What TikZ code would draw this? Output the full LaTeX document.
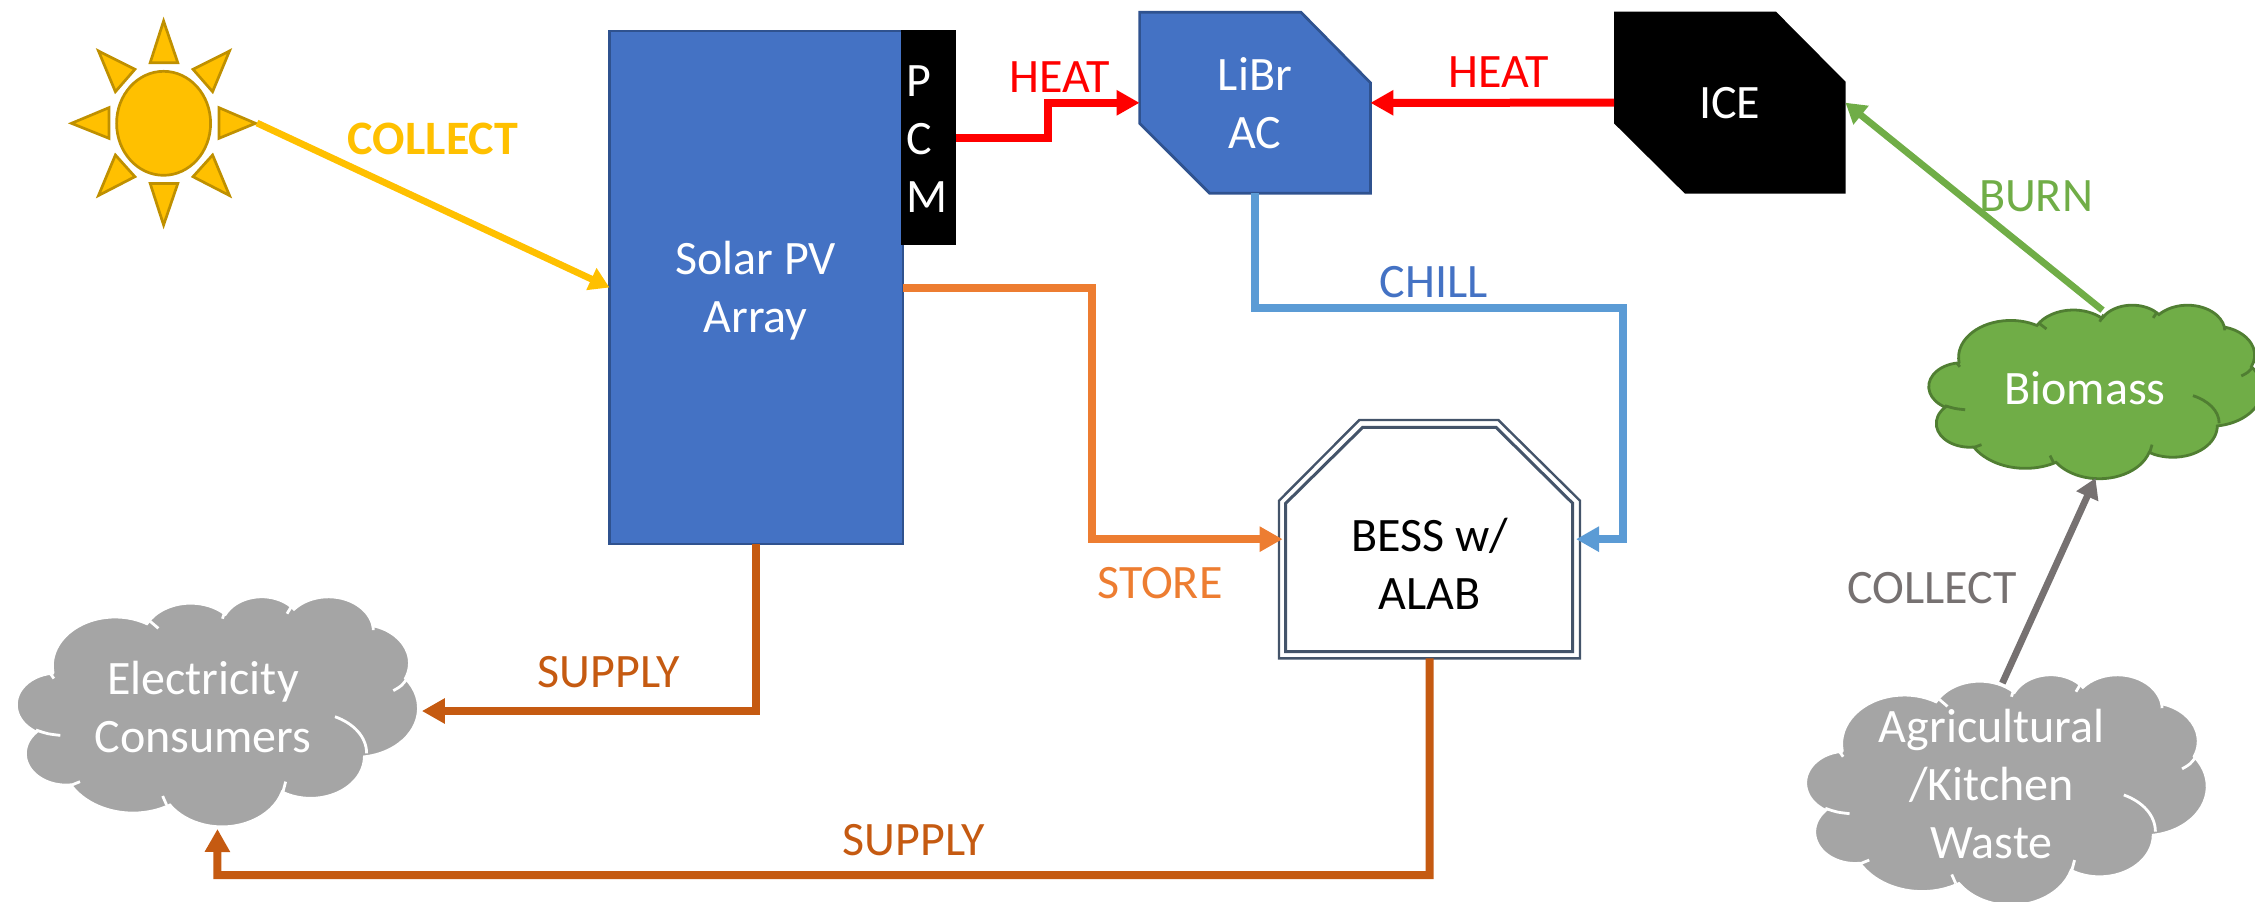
\documentclass[tikz,border=0pt]{standalone}
\usepackage{fontspec}
\setmainfont{Carlito}
\usetikzlibrary{arrows.meta}
\definecolor{pvblue}{HTML}{4472C4}
\definecolor{pvedge}{HTML}{2F528F}
\definecolor{sunfill}{HTML}{FFC000}
\definecolor{sunedge}{HTML}{BF9000}
\definecolor{leaf}{HTML}{70AD47}
\definecolor{leafedge}{HTML}{507E32}
\definecolor{cloudgrey}{HTML}{A5A5A5}
\definecolor{chillblue}{HTML}{5B9BD5}
\definecolor{storeorange}{HTML}{ED7D31}
\definecolor{supplybrown}{HTML}{C55A11}
\definecolor{wastegrey}{HTML}{767171}
\definecolor{slateedge}{HTML}{44546A}
\tikzset{
  txt/.style={font=\fontsize{24}{29}\selectfont,inner sep=0pt,outer sep=0pt,align=center},
  lbl/.style={txt,anchor=base},
  area/.style={inner sep=0pt,outer sep=0pt,minimum width=#1},
  ray/.style={fill=sunfill,draw=sunedge,line width=1.35pt,line join=miter},
  pipe/.style={line width=4pt,line join=miter,-{Triangle[length=11.5pt,width=12pt]}},
  slim/.style={line width=3.4pt,-{Triangle[length=10pt,width=11.5pt]}},
}
\newcommand\carc[4]{arc[start angle={atan2(#1*sin(#3),#2*cos(#3))},delta angle={mod(atan2(#1*sin(#3+#4),#2*cos(#3+#4))-atan2(#1*sin(#3),#2*cos(#3))+720,360)},x radius=#1,y radius=#2]}
% #1 corner, #2 x unit, #3 y unit, #4 fill, #5 line
\newcommand\cloudshape[5]{%
\begin{scope}[shift={#1},x=#2pt,y=-#3pt,line width=1.4pt]
\path[fill=#4,draw=#5] (39,143.7)
 \carc{67.53}{91.90}{-190.4875}{123.7805}
 \carc{53.33}{72.67}{-144.1024}{89.9452}
 \carc{43.65}{59.45}{-145.8079}{99.7230}
 \carc{48.57}{65.95}{-130.9861}{117.2417}
 \carc{53.33}{72.73}{-78.7089}{109.0269}
 \carc{67.75}{92.20}{-46.2673}{130.2690}
 \carc{57.85}{78.67}{0.6250}{114.0333}
 \carc{67.52}{92.15}{22.4516}{115.1726}
 \carc{77.20}{105.43}{66.2426}{75.7110}
 \carc{43.60}{59.18}{-274.9421}{146.7356}
 \carc{43.45}{59.45}{-246.8285}{152.5189} -- cycle;
\draw[#5] (46.93,261.77) .. controls (33,259) .. (20.8,251.7);
\draw[#5] (40,155) -- (36,145);
\draw[#5] (152.4,60.7) .. controls (148,53) .. (142.7,46.3);
\draw[#5] (221.4,42.6) .. controls (223,33) .. (226.6,25);
\draw[#5] (290.8,33.2) .. controls (293,26) .. (295.8,18.8);
\draw[#5] (383.2,54) -- (383.6,64);
\draw[#5] (405.1,177.8) .. controls (414,169) .. (420.2,154.6);
\draw[#5] (342.4,226.7) .. controls (362,239) and (376.4,264) .. (376.4,295.5);
\draw[#5] (289.3,348.7) .. controls (288,360) .. (286,370.6);
\draw[#5] (157,375.7) .. controls (158.5,385) .. (161.3,392.6);
\draw[#5] (68.1,348.7) .. controls (63,352) .. (59.2,355);
\end{scope}}
\begin{document}
\begin{tikzpicture}[x=0.5pt,y=-0.5pt]
\useasboundingbox (0,0) rectangle (2255,901);
% sun
\draw[ray] (163.6,123.3) ellipse [x radius=47,y radius=52];
\draw[ray] (163.6,21) -- (150.2,62.7) -- (177.8,62.7) -- cycle;
\draw[ray] (229.5,51) -- (193,69.3) -- (212.6,91.7) -- cycle;
\draw[ray] (255.5,123.3) -- (219,107.7) -- (219,138.3) -- cycle;
\draw[ray] (229.5,195.5) -- (193,176.7) -- (212.6,155) -- cycle;
\draw[ray] (163.6,225) -- (150.2,183.5) -- (177.8,183.5) -- cycle;
\draw[ray] (98.5,195.5) -- (134.9,176.7) -- (115.4,155) -- cycle;
\draw[ray] (71.5,123.3) -- (108.9,107.7) -- (108.9,138.3) -- cycle;
\draw[ray] (98.5,51) -- (134.9,69.3) -- (115.4,91.7) -- cycle;
\node[area=93.5pt,minimum height=106pt] (sun) at (163.5,123) {};
% solar array and PCM
\node[fill=pvblue,draw=pvedge,line width=1.35pt,inner sep=0pt,outer sep=0pt,minimum width=146.75pt,minimum height=256.5pt] (solar) at (756.25,287.5) {};
\node[txt,text=white] (solartext) at (755.5,291) {Solar PV\\Array};
\node[fill=black,inner sep=0pt,outer sep=0pt,minimum height=107.5pt,minimum width=27.5pt] (pcm) at (928.5,137.5) {};
\node[txt,text=white,text width=22pt,align=left,anchor=west] (pcmtext) at (906.5,139.5) {P\\C\\M};
% LiBr AC
\path[fill=pvblue,draw=pvedge,line width=1.35pt] (1139.6,12.3) -- (1301,12.3) -- (1370.4,82.7) -- (1370.4,193.3) -- (1209.7,193.3) -- (1139.6,123.3) -- cycle;
\node[txt,text=white,area=115.4pt,minimum height=90.5pt] (libr) at (1255,102.8) {LiBr\\AC};
% ICE
\path[fill=black] (1614,11.7) -- (1776,11.7) -- (1845.5,81.7) -- (1845.5,193.7) -- (1685,193.7) -- (1614,123.3) -- cycle;
\node[txt,text=white,area=115.75pt,minimum height=91pt] (ice) at (1729.75,102.7) {ICE};
% BESS
\path[fill=white,draw=slateedge,line width=1.2pt] (1359.3,420) -- (1498.3,420) -- (1580,500.7) -- (1580,658.3) -- (1279,658.3) -- (1279,500.7) -- cycle;
\path[draw=slateedge,line width=1.5pt] (1362.7,427.3) -- (1496,427.3) -- (1572.7,503.3) -- (1572.7,651.7) -- (1285.7,651.7) -- (1285.7,503.3) -- cycle;
\node[area=150.5pt,minimum height=119.15pt] (bess) at (1429.5,539.15) {};
\node[txt,text=black] (besstext) at (1429.5,563.5) {BESS w/\\ALAB};
% clouds
\cloudshape{(16.7,596)}{0.46481}{0.26620}{cloudgrey}{white}
\node[area=200.8pt,minimum height=115pt] (cons) at (217.5,711) {};
\node[txt,text=white] (constext) at (203,707) {Electricity\\Consumers};
\cloudshape{(1929,304.6)}{0.38542}{0.20081}{leaf}{leafedge}
\node[area=166.5pt,minimum height=86.75pt] (bio) at (2095.5,391.3) {};
\node[lbl,text=white] (biotext) at (2085,404.6) {Biomass};
\cloudshape{(1806,674)}{0.46412}{0.26678}{cloudgrey}{white}
\node[area=200.5pt,minimum height=115.25pt] (waste) at (2006.5,789.25) {};
\node[txt,text=white] (wastetext) at (1991.7,784) {Agricultural\\/Kitchen\\Waste};
% connectors
\draw[slim,sunfill] (sun.east) -- (solar.west);
\draw[pipe,red] (pcm.east) -- (1047.7,137.5) |- (libr.west);
\draw[pipe,red] (ice.west) -- (libr.east);
\draw[pipe,chillblue,shorten >=-2pt] (libr.south) |- (1623.3,308.3) |- (bess.east);
\draw[pipe,storeorange,shorten >=-1.8pt] (solar.east) -- (1092.4,287.5) |- (bess.west);
\draw[pipe,supplybrown,shorten >=1.8pt] (solar.south) |- (cons.east);
\draw[pipe,supplybrown,shorten >=1.5pt] (bess.south) |- (217.3,875) -- (cons.south);
\draw[slim,leaf,shorten <=-4.5pt] (bio.north) -- (ice.east);
\draw[slim,wastegrey,shorten <=-5pt] (waste.north) -- (bio.south);
% connector labels
\node[lbl,text=sunfill,font=\fontsize{24}{29}\selectfont\bfseries] (l1) at (433,154) {COLLECT};
\node[lbl,text=red] (l2) at (1059.5,92) {HEAT};
\node[lbl,text=red] (l3) at (1499,87.5) {HEAT};
\node[lbl,text=pvblue] (l4) at (1433.6,297.3) {CHILL};
\node[lbl,text=storeorange] (l5) at (1160,598) {STORE};
\node[lbl,text=supplybrown] (l6) at (609,687) {SUPPLY};
\node[lbl,text=supplybrown] (l7) at (914,855.5) {SUPPLY};
\node[lbl,text=leaf] (l8) at (2036,211.4) {BURN};
\node[lbl,text=wastegrey] (l9) at (1932,603) {COLLECT};
\end{tikzpicture}
\end{document}
